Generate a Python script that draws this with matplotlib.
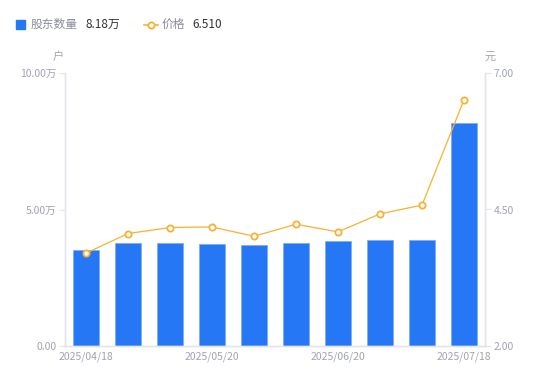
import matplotlib
matplotlib.use("Agg")
import matplotlib.pyplot as plt
from matplotlib.lines import Line2D

plt.rcParams['font.family'] = ['Noto Sans CJK SC', 'DejaVu Sans']

dates = ["2025/04/18", "2025/04/30", "2025/05/09", "2025/05/20", "2025/05/30",
         "2025/06/10", "2025/06/20", "2025/06/30", "2025/07/10", "2025/07/18"]
holders = [3.53, 3.76, 3.76, 3.75, 3.70, 3.77, 3.85, 3.87, 3.87, 8.18]  # 万户
price = [3.70, 4.06, 4.17, 4.18, 4.01, 4.23, 4.09, 4.42, 4.58, 6.51]
left_ticks = [0, 5, 10]
left_labels = ["0.00", "5.00万", "10.00万"]
right_ticks = [2.0, 4.5, 7.0]
right_labels = ["2.00", "4.50", "7.00"]
shown_idx = [0, 3, 6, 9]

BLUE = "#2577F5"
ORANGE = "#F8B133"
GREY = "#A0A3B1"
AXIS = "#E3E5EA"

fig = plt.figure(figsize=(5.5, 3.81), dpi=100)
ax = fig.add_axes([65/550, 35/381, 420/550, 273/381])
x = list(range(len(dates)))
ax.bar(x, holders, width=0.62, color=BLUE, edgecolor="#7FAEF7", linewidth=0.6, zorder=2)
ax.set_xlim(-0.5, len(dates) - 0.5)
ax.set_ylim(0, 10)
ax.set_yticks(left_ticks)
ax.set_yticklabels(left_labels)
ax.set_xticks([x[i] for i in shown_idx])
ax.set_xticklabels([dates[i] for i in shown_idx])

ax2 = ax.twinx()
ax2.plot(x, price, color=ORANGE, linewidth=0.9, marker='o', markersize=4.5,
         markerfacecolor='white', markeredgecolor=ORANGE, markeredgewidth=1.3, zorder=3)
ax2.set_ylim(2, 7)
ax2.set_yticks(right_ticks)
ax2.set_yticklabels(right_labels)

for a in (ax, ax2):
    for s in a.spines.values():
        s.set_color(AXIS)
        s.set_linewidth(1)
    a.spines['top'].set_visible(False)
ax.tick_params(axis='y', colors=AXIS, labelcolor=GREY, labelsize=7.5, length=4, width=0.8, pad=2)
ax.tick_params(axis='x', length=0, labelcolor=GREY, labelsize=7.5, pad=4)
ax2.tick_params(axis='y', colors=AXIS, labelcolor=GREY, labelsize=7.5, length=4, width=0.8, pad=2)

fig.text(58/550, 1 - 57/381, "户", ha='center', va='center', fontsize=8, color=GREY)
fig.text(490/550, 1 - 57/381, "元", ha='center', va='center', fontsize=8, color=GREY)

# legend
fig.patches.append(plt.Rectangle((16/550, 1 - 29/381), 9/550, 9/381, transform=fig.transFigure,
                                 color=BLUE, figure=fig))
fig.text(31/550, 1 - 24.5/381, "股东数量", ha='left', va='center', fontsize=8.5, color="#8A8D99")
fig.text(85/550, 1 - 24.5/381, "%.2f万" % holders[-1], ha='left', va='center', fontsize=8.5, color="#333333")
fig.lines.append(Line2D([144/550, 158/550], [1 - 24.5/381, 1 - 24.5/381], transform=fig.transFigure,
                        color=ORANGE, linewidth=1.2, marker='o', markevery=[0], markersize=0))
fig.lines.append(Line2D([151/550], [1 - 24.5/381], transform=fig.transFigure, color=ORANGE,
                        marker='o', markersize=4.5, markerfacecolor='white', markeredgewidth=1.3,
                        linestyle='none'))
fig.text(162/550, 1 - 24.5/381, "价格", ha='left', va='center', fontsize=8.5, color="#8A8D99")
fig.text(192/550, 1 - 24.5/381, "%.3f" % price[-1], ha='left', va='center', fontsize=8.5, color="#333333")

fig.savefig("out.png", dpi=100)
